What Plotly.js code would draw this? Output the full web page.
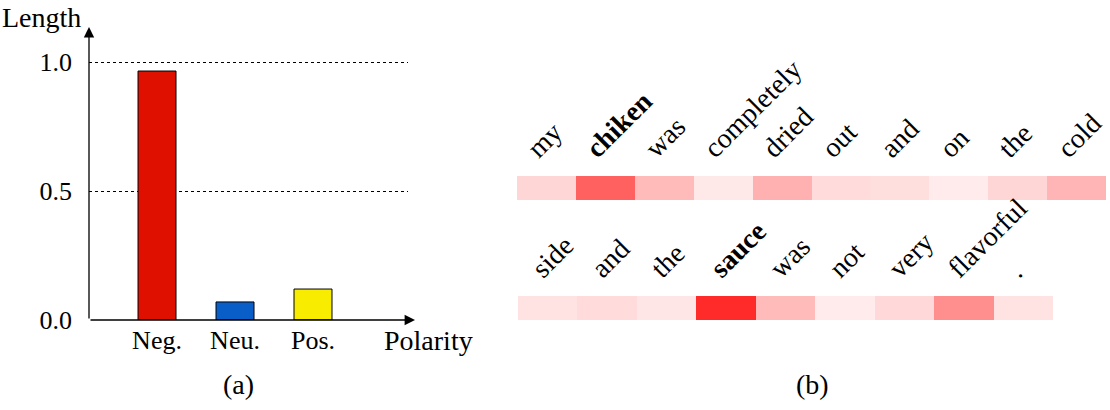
<!DOCTYPE html>
<html>
<head>
<meta charset="utf-8">
<script src="https://cdn.plot.ly/plotly-3.0.1.min.js"></script>
<style>html,body{margin:0;padding:0;background:#fff;}#chart{width:1110px;height:410px;}</style>
</head>
<body>
<div id="chart"></div>
<script>
// ---- data ----
const categories = ['Neg.', 'Neu.', 'Pos.'];
const lengths = [0.965, 0.07, 0.12];
const barColors = ['#E01000', '#0A5EC8', '#F8EC00'];
const yTickVals = [0, 0.5, 1.0];
const yTickText = ['0.0', '0.5', '1.0'];

const words1 = ['my', 'chiken', 'was', 'completely', 'dried', 'out', 'and', 'on', 'the', 'cold'];
const weights1 = [0.16, 0.62, 0.27, 0.09, 0.31, 0.14, 0.13, 0.08, 0.16, 0.29];
const words2 = ['side', 'and', 'the', 'sauce', 'was', 'not', 'very', 'flavorful', '.'];
const weights2 = [0.11, 0.14, 0.10, 0.83, 0.27, 0.08, 0.15, 0.44, 0.11];
const boldWords = ['chiken', 'sauce'];

// ---- helpers ----
const W = 1110, H = 410;
const px = v => v / W;
const py = v => 1 - v / H;
const FONT = '"Liberation Serif", "Times New Roman", serif';
const fmtWord = w => boldWords.includes(w) ? '<b>' + w + '</b>' : w;
const idx = arr => arr.map((_, i) => i);
// label anchor nudge (fraction of a cell), purely stylistic
const LABEL_SHIFT_1 = -0.3;
const LABEL_SHIFT_2 = -0.24;

const traces = [
  {
    type: 'bar', x: categories, y: lengths,
    marker: {color: barColors, line: {color: '#000', width: 1}},
    width: 0.487, xaxis: 'x', yaxis: 'y', hoverinfo: 'skip'
  },
  {
    type: 'heatmap', z: [weights1], x: idx(words1), y: [0],
    colorscale: [[0, '#FFFFFF'], [1, '#FF0000']], zmin: 0, zmax: 1,
    showscale: false, xaxis: 'x2', yaxis: 'y2', hoverinfo: 'skip'
  },
  {
    type: 'heatmap', z: [weights2], x: idx(words2), y: [0],
    colorscale: [[0, '#FFFFFF'], [1, '#FF0000']], zmin: 0, zmax: 1,
    showscale: false, xaxis: 'x3', yaxis: 'y3', hoverinfo: 'skip'
  }
];

const tickFont = {family: FONT, size: 26, color: '#000'};
const bigFont = {family: FONT, size: 28, color: '#000'};

const layout = {
  width: W, height: H,
  margin: {l: 0, r: 0, t: 0, b: 0},
  paper_bgcolor: '#fff', plot_bgcolor: 'rgba(0,0,0,0)',
  showlegend: false,
  font: {family: FONT, size: 26, color: '#000'},
  xaxis: {
    domain: [px(89), px(408)], anchor: 'y',
    type: 'category', categoryarray: categories,
    range: [-0.872, 3.218],
    showgrid: false, zeroline: false, showline: false, ticks: '',
    tickfont: tickFont, ticklabelstandoff: 2, fixedrange: true
  },
  yaxis: {
    domain: [py(320), py(28)], anchor: 'x',
    range: [0, 1.1318],
    tickvals: yTickVals, ticktext: yTickText,
    showgrid: true, gridcolor: '#000', gridwidth: 1, griddash: 'dot',
    zeroline: false, showline: false, ticks: '',
    tickfont: tickFont, ticklabelstandoff: 16, fixedrange: true
  },
  xaxis2: {
    domain: [px(517), px(1106)], anchor: 'y2', side: 'top',
    range: [-0.5, words1.length - 0.5],
    tickvals: idx(words1).map(i => i + LABEL_SHIFT_1), ticktext: words1.map(fmtWord),
    tickangle: -45, ticks: '', showgrid: false, zeroline: false, showline: false,
    ticklabeloverflow: 'allow', ticklabelstandoff: 6,
    tickfont: bigFont, fixedrange: true
  },
  yaxis2: {
    domain: [py(200), py(176)], anchor: 'x2', range: [-0.5, 0.5],
    visible: false, fixedrange: true
  },
  xaxis3: {
    domain: [px(518), px(1053)], anchor: 'y3', side: 'top',
    range: [-0.5, words2.length - 0.5],
    tickvals: idx(words2).map(i => i + LABEL_SHIFT_2), ticktext: words2.map(fmtWord),
    tickangle: -45, ticks: '', showgrid: false, zeroline: false, showline: false,
    ticklabeloverflow: 'allow', ticklabelstandoff: 6,
    tickfont: bigFont, fixedrange: true
  },
  yaxis3: {
    domain: [py(320), py(296)], anchor: 'x3', range: [-0.5, 0.5],
    visible: false, fixedrange: true
  },
  annotations: [
    // y axis arrow
    {xref: 'paper', yref: 'paper', x: px(89), y: py(27), ax: 0, ay: 293,
     showarrow: true, arrowhead: 2, arrowsize: 1.6, arrowwidth: 1.3, arrowcolor: '#000', text: ''},
    // x axis arrow
    {xref: 'paper', yref: 'paper', x: px(415), y: py(320), ax: -326, ay: 0,
     showarrow: true, arrowhead: 2, arrowsize: 1.6, arrowwidth: 1.3, arrowcolor: '#000', text: ''},
    {xref: 'paper', yref: 'paper', x: px(41), y: py(17), text: 'Length', showarrow: false,
     xanchor: 'center', yanchor: 'middle', font: bigFont},
    {xref: 'paper', yref: 'paper', x: px(428), y: py(340), text: 'Polarity', showarrow: false,
     xanchor: 'center', yanchor: 'middle', font: bigFont},
    {xref: 'paper', yref: 'paper', x: px(238), y: py(384), text: '(a)', showarrow: false,
     xanchor: 'center', yanchor: 'middle', font: bigFont},
    {xref: 'paper', yref: 'paper', x: px(812), y: py(384), text: '(b)', showarrow: false,
     xanchor: 'center', yanchor: 'middle', font: bigFont}
  ]
};

Plotly.newPlot('chart', traces, layout, {displayModeBar: false, staticPlot: true});
</script>
</body>
</html>
